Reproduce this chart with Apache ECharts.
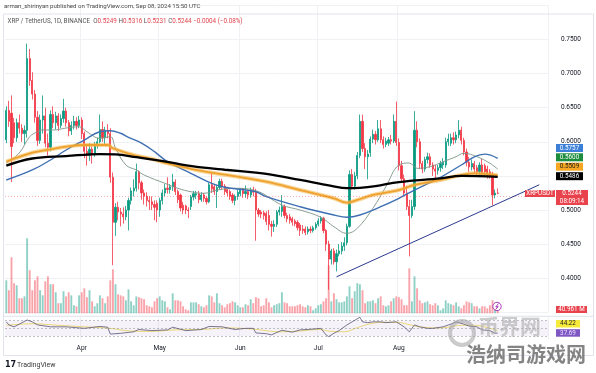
<!DOCTYPE html>
<html><head><meta charset="utf-8">
<script src="https://cdn.jsdelivr.net/npm/echarts/dist/echarts.min.js"></script>
<style>html,body{margin:0;padding:0;background:#fff;}#c{width:596px;height:373px;}</style>
</head><body><div id="c"></div>
<script>
// ---------- DATA ----------
const startDate = [2024, 2, 3];      // 2024-03-03, daily bars
const totalSlots = 209;              // bars + empty right margin
const monthTicks = ['Apr', 'May', 'Jun', 'Jul', 'Aug'];
const priceTicks = [0.40, 0.45, 0.50, 0.55, 0.60, 0.65, 0.70, 0.75];

// [open, close, low, high]
const candlesMar = [
[0.603,0.646,0.598,0.652],[0.646,0.630,0.622,0.660],[0.642,0.593,0.541,0.668],[0.628,0.606,0.598,0.635],
[0.606,0.628,0.600,0.634],[0.628,0.620,0.612,0.640],[0.620,0.612,0.600,0.626],[0.612,0.617,0.596,0.624],
[0.617,0.722,0.606,0.744],[0.722,0.690,0.682,0.736],[0.690,0.670,0.662,0.702],[0.670,0.636,0.628,0.676],
[0.636,0.602,0.594,0.645],[0.602,0.632,0.597,0.640],[0.632,0.638,0.612,0.668],[0.638,0.598,0.592,0.650],
[0.598,0.592,0.580,0.612],[0.592,0.640,0.586,0.646],[0.640,0.628,0.620,0.652],[0.628,0.638,0.618,0.644],
[0.638,0.624,0.616,0.642],[0.624,0.634,0.620,0.640],[0.634,0.645,0.628,0.663],[0.645,0.628,0.622,0.650],
[0.628,0.616,0.608,0.632],[0.616,0.624,0.610,0.630],[0.624,0.630,0.618,0.638],[0.630,0.624,0.618,0.636],
[0.624,0.632,0.620,0.638]
];
const candlesApr = [
[0.632,0.612,0.604,0.636],[0.612,0.586,0.576,0.615],[0.586,0.580,0.565,0.596],[0.580,0.589,0.572,0.598],
[0.589,0.582,0.568,0.593],[0.582,0.594,0.578,0.600],[0.594,0.600,0.590,0.606],[0.600,0.618,0.598,0.640],
[0.618,0.606,0.600,0.630],[0.606,0.617,0.596,0.622],[0.617,0.612,0.605,0.626],[0.612,0.548,0.540,0.620],
[0.548,0.482,0.419,0.555],[0.482,0.504,0.462,0.510],[0.504,0.497,0.485,0.512],[0.497,0.494,0.476,0.503],
[0.494,0.490,0.480,0.504],[0.490,0.500,0.485,0.506],[0.500,0.514,0.470,0.518],[0.514,0.528,0.508,0.533],
[0.528,0.532,0.520,0.545],[0.532,0.556,0.527,0.568],[0.556,0.540,0.530,0.558],[0.540,0.525,0.515,0.543],
[0.525,0.520,0.508,0.530],[0.520,0.514,0.505,0.526],[0.514,0.512,0.500,0.520],[0.512,0.508,0.500,0.520],
[0.508,0.504,0.485,0.514],[0.510,0.500,0.482,0.514]
];
const candlesMay = [
[0.500,0.514,0.490,0.518],[0.514,0.525,0.508,0.530],[0.525,0.532,0.520,0.538],[0.532,0.530,0.524,0.548],
[0.530,0.534,0.524,0.538],[0.534,0.541,0.528,0.553],[0.541,0.527,0.522,0.545],[0.527,0.515,0.510,0.530],
[0.522,0.503,0.498,0.524],[0.507,0.500,0.494,0.512],[0.506,0.500,0.494,0.508],[0.500,0.499,0.488,0.504],
[0.505,0.519,0.500,0.522],[0.519,0.524,0.514,0.528],[0.522,0.524,0.516,0.528],[0.524,0.515,0.510,0.528],
[0.515,0.522,0.512,0.526],[0.522,0.517,0.512,0.525],[0.517,0.512,0.508,0.520],[0.512,0.537,0.510,0.540],
[0.537,0.531,0.525,0.556],[0.534,0.527,0.522,0.538],[0.527,0.533,0.503,0.537],[0.533,0.542,0.530,0.546],
[0.542,0.535,0.530,0.546],[0.535,0.527,0.522,0.538],[0.530,0.525,0.520,0.534],[0.527,0.520,0.515,0.530],
[0.522,0.514,0.510,0.525],[0.514,0.520,0.507,0.523],[0.520,0.526,0.515,0.530]
];
const candlesJun = [
[0.524,0.529,0.520,0.532],[0.529,0.524,0.518,0.532],[0.524,0.527,0.518,0.536],[0.527,0.522,0.516,0.530],
[0.522,0.528,0.518,0.533],[0.528,0.526,0.520,0.534],[0.526,0.500,0.455,0.531],[0.500,0.494,0.490,0.503],
[0.497,0.494,0.488,0.500],[0.496,0.492,0.486,0.499],[0.495,0.483,0.478,0.498],[0.492,0.479,0.470,0.500],
[0.479,0.476,0.461,0.484],[0.476,0.479,0.468,0.485],[0.479,0.497,0.475,0.500],[0.497,0.500,0.492,0.505],
[0.498,0.505,0.490,0.522],[0.505,0.492,0.488,0.508],[0.492,0.487,0.482,0.496],[0.490,0.485,0.480,0.494],
[0.487,0.482,0.477,0.490],[0.484,0.480,0.476,0.487],[0.482,0.474,0.470,0.485],[0.478,0.470,0.462,0.481],
[0.472,0.470,0.465,0.478],[0.472,0.467,0.463,0.476],[0.468,0.472,0.464,0.476],[0.472,0.470,0.466,0.476],
[0.470,0.474,0.467,0.477],[0.474,0.479,0.471,0.482]
];
const candlesJul = [
[0.479,0.484,0.476,0.488],[0.484,0.488,0.480,0.491],[0.488,0.470,0.466,0.490],[0.470,0.450,0.440,0.472],
[0.450,0.428,0.383,0.455],[0.428,0.440,0.420,0.443],[0.440,0.424,0.420,0.444],[0.424,0.436,0.410,0.442],
[0.436,0.440,0.432,0.450],[0.440,0.447,0.435,0.453],[0.447,0.452,0.440,0.460],[0.452,0.476,0.448,0.480],
[0.476,0.552,0.474,0.558],[0.552,0.535,0.530,0.560],[0.535,0.550,0.530,0.556],[0.550,0.580,0.545,0.585],
[0.580,0.630,0.576,0.640],[0.630,0.590,0.585,0.640],[0.590,0.578,0.560,0.598],[0.578,0.582,0.545,0.588],
[0.584,0.604,0.578,0.608],[0.604,0.611,0.598,0.618],[0.611,0.603,0.596,0.616],[0.603,0.619,0.600,0.632],
[0.619,0.603,0.598,0.632],[0.603,0.596,0.590,0.608],[0.596,0.601,0.592,0.606],[0.598,0.603,0.594,0.607],
[0.603,0.601,0.596,0.610],[0.601,0.630,0.598,0.640],[0.630,0.599,0.594,0.659]
];
const candlesAug = [
[0.599,0.565,0.558,0.605],[0.565,0.546,0.540,0.572],[0.546,0.525,0.520,0.552],[0.525,0.505,0.500,0.535],
[0.505,0.492,0.432,0.515],[0.492,0.505,0.488,0.515],[0.505,0.617,0.500,0.645],[0.617,0.600,0.592,0.630],
[0.600,0.568,0.560,0.605],[0.568,0.560,0.554,0.572],[0.560,0.574,0.556,0.578],[0.574,0.578,0.568,0.584],
[0.578,0.566,0.562,0.583],[0.566,0.560,0.550,0.570],[0.560,0.557,0.545,0.566],[0.558,0.562,0.552,0.566],
[0.562,0.568,0.556,0.572],[0.566,0.570,0.560,0.576],[0.566,0.600,0.562,0.606],[0.600,0.604,0.594,0.612],
[0.598,0.606,0.594,0.612],[0.606,0.603,0.596,0.614],[0.603,0.610,0.598,0.615],[0.610,0.617,0.605,0.632],
[0.617,0.602,0.596,0.622],[0.602,0.585,0.580,0.606],[0.585,0.570,0.564,0.590],[0.570,0.563,0.556,0.578],
[0.563,0.568,0.558,0.574],[0.568,0.560,0.554,0.572],[0.562,0.556,0.550,0.566]
];
const candlesSep = [
[0.556,0.566,0.548,0.570],[0.566,0.555,0.550,0.575],[0.565,0.556,0.550,0.568],[0.560,0.554,0.546,0.565],
[0.556,0.550,0.546,0.560],[0.552,0.522,0.507,0.556],[0.522,0.5249,0.517,0.530],[0.5249,0.5244,0.5231,0.5316]
];

// volume, millions
const volMar = [193,135,328,176,164,88,88,99,439,252,135,193,216,135,105,187,216,170,170,123,59,59,129,99,123,105,47,41,105];
const volApr = [123,146,94,135,70,41,59,105,88,59,99,193,257,170,111,105,99,76,140,70,47,99,94,88,82,47,41,35,70,88];
const volMay = [99,76,70,35,23,117,76,76,70,41,23,18,64,64,64,53,41,35,47,105,99,64,117,59,47,35,53,59,70,64,47];
const volJun = [35,35,53,47,82,59,94,88,41,47,88,64,35,47,53,59,123,64,59,41,41,41,47,53,41,35,47,41,18,29];
const volJul = [47,53,70,88,281,70,117,82,64,64,70,99,158,88,129,176,170,135,59,70,70,76,59,88,99,47,41,47,70,88,99];
const volAug = [94,82,47,47,263,70,216,146,76,59,64,70,53,47,59,47,18,29,76,59,53,47,64,41,29,47,70,64,59,41,41];
const volSep = [29,41,41,29,47,76,29,40.961];

// moving averages: [barIndex, value]
const maThin = [[0,0.569],[5,0.5836],[9,0.6075],[12,0.6148],[14,0.6173],[18,0.6173],[23,0.6202],[28,0.6221],[31,0.6148],[36,0.6051],[40,0.6075],[42,0.5909],[46,0.566],[50,0.5587],[53,0.5513],[61,0.5391],[66,0.5318],[71,0.5268],[76,0.5245],[81,0.5293],[88,0.5318],[96,0.5283],[106,0.5073],[113,0.50],[121,0.4893],[126,0.4755],[131,0.4658],[135,0.4732],[141,0.5025],[146,0.5342],[151,0.566],[155,0.5689],[158,0.5611],[163,0.5635],[168,0.5708],[173,0.5782],[176,0.5831],[181,0.5782],[186,0.5685],[189,0.56]];
const maBlue = [[0,0.544],[10,0.5587],[17,0.5733],[23,0.588],[30,0.6026],[36,0.6148],[40,0.6163],[44,0.6125],[47,0.6066],[52,0.598],[57,0.5855],[62,0.5708],[71,0.5538],[79,0.5391],[84,0.5333],[96,0.5268],[100,0.5195],[113,0.5048],[126,0.4927],[131,0.4893],[136,0.4927],[144,0.5048],[151,0.5172],[157,0.5293],[167,0.548],[175,0.566],[180,0.578],[184,0.582],[189,0.5757]];
const maOrange = [[0,0.5708],[10,0.584],[17,0.589],[23,0.5928],[30,0.5953],[39,0.5953],[41,0.5905],[49,0.5806],[55,0.5758],[62,0.5685],[74,0.558],[87,0.5499],[100,0.5415],[113,0.5293],[126,0.5172],[131,0.5107],[135,0.5147],[141,0.522],[151,0.5293],[157,0.5367],[167,0.544],[175,0.5513],[180,0.5538],[189,0.5509]];
const maBlack = [[0,0.565],[10,0.5755],[23,0.579],[36,0.582],[42,0.5815],[50,0.5775],[59,0.5725],[67,0.567],[75,0.5625],[84,0.559],[96,0.5548],[100,0.553],[113,0.544],[125,0.5355],[131,0.532],[136,0.5325],[142,0.535],[151,0.541],[167,0.5465],[175,0.55],[189,0.5486]];
const trendLine = [[127,0.402],[205,0.537]];
const lastPrice = 0.5244;

// RSI: [barIndex, value]
const rsi = [[0,67],[1,59],[3,54],[5,61],[8,72],[10,67],[12,59],[17,54],[23,54],[30,50],[36,55],[39,53],[40,35],[44,37],[49,41],[51,47],[56,44],[62,46],[64,53],[69,44],[75,47],[78,55],[83,54],[88,47],[92,50],[95,50],[96,38],[100,36],[102,33],[106,45],[110,40],[113,46],[117,47.5],[121,50],[123,32.6],[124,28.3],[126,37],[128,44],[131,59],[133,67],[136,79],[137,67],[139,65],[141,67],[144,67],[146,65],[150,67],[153,54],[155,41],[157,59],[159,54],[162,50],[164,50],[168,54],[171,61],[173,67],[176,61],[178,56],[181,54],[183,46],[186,44],[188,37],[189,37.69]];
const rsiMa = [[0,58],[10,62],[20,58],[30,54],[40,50],[46,44],[55,42],[65,46],[75,47],[85,51],[95,48],[105,41],[113,43],[120,47],[125,42],[130,41],[135,52],[140,62],[145,66],[150,66],[156,58],[160,53],[165,51],[170,53],[175,58],[180,58],[185,52],[189,44.22]];

// ---------- BUILD ----------
const candles = [].concat(candlesMar, candlesApr, candlesMay, candlesJun, candlesJul, candlesAug, candlesSep);
const volumes = [].concat(volMar, volApr, volMay, volJun, volJul, volAug, volSep);
const dates = [];
for (let i = 0; i < totalSlots; i++) {
  const d = new Date(Date.UTC(startDate[0], startDate[1], startDate[2] + i));
  dates.push(d.toISOString().slice(0, 10));
}
const MON = ['Jan','Feb','Mar','Apr','May','Jun','Jul','Aug','Sep','Oct','Nov','Dec'];
const isMonthTick = (idx, val) => {
  const v = dates[idx];
  if (!v || v.slice(8) !== '01') return false;
  return monthTicks.indexOf(MON[+v.slice(5, 7) - 1]) >= 0;
};
const UP = '#089981', DOWN = '#F23645';
const volData = volumes.map((v, i) => ({
  value: v,
  itemStyle: { color: candles[i][1] >= candles[i][0] ? 'rgba(8,153,129,0.45)' : 'rgba(242,54,69,0.45)' }
}));

const FONT = 'Roboto, "Liberation Sans", sans-serif';
const GL = 5, GW = 543.4;
const chart = echarts.init(document.getElementById('c'), null, { renderer: 'canvas' });

const tag = (x, y, w, h, bg, txt, fg) => ([
  { type: 'rect', shape: { x: x, y: y, width: w, height: h }, style: { fill: bg }, z: 100 },
  { type: 'text', x: x + w / 2, y: y + h / 2, style: { text: txt, fill: fg, font: '6.3px ' + FONT, align: 'center', verticalAlign: 'middle' }, z: 101 }
]);

const option = {
  animation: false,
  backgroundColor: '#fff',
  grid: [
    { left: GL, width: GW, top: 5.4, height: 306.9 },
    { left: GL, width: GW, top: 227.8, height: 85.5 },
    { left: GL, width: GW, top: 316.9, height: 22.9 }
  ],
  xAxis: [0, 1, 2].map(g => ({
    type: 'category', gridIndex: g, data: dates, boundaryGap: true,
    axisLine: { show: false }, axisTick: { show: false },
    axisLabel: g === 2 ? {
      show: true, interval: isMonthTick, margin: 5, fontSize: 6.6, color: '#131722', fontFamily: FONT,
      formatter: v => MON[+v.slice(5, 7) - 1]
    } : { show: false },
    splitLine: { show: g !== 1, interval: isMonthTick, lineStyle: { color: '#f0f1f4', width: 1 } }
  })),
  yAxis: [
    {
      gridIndex: 0, type: 'value', position: 'right', min: 0.35, max: 0.80, interval: 0.05,
      axisLine: { show: false }, axisTick: { show: false },
      axisLabel: {
        margin: 12.5, fontSize: 6.5, color: '#131722', fontFamily: FONT,
        formatter: v => priceTicks.some(t => Math.abs(t - v) < 1e-6) ? v.toFixed(4) : ''
      },
      splitLine: { lineStyle: { color: '#f0f1f4', width: 1 } }
    },
    { gridIndex: 1, type: 'value', min: 0, max: 500, show: false },
    { gridIndex: 2, type: 'value', min: 20, max: 80, show: false }
  ],
  series: [
    {
      type: 'bar', name: 'vol', xAxisIndex: 1, yAxisIndex: 1, data: volData,
      barWidth: 1.9, z: 1, silent: true
    },
    {
      type: 'candlestick', name: 'XRPUSDT', xAxisIndex: 0, yAxisIndex: 0, data: candles,
      barWidth: 1.8, z: 3,
      itemStyle: { color: UP, color0: DOWN, borderColor: UP, borderColor0: DOWN, borderWidth: 0.8 },
      markLine: {
        silent: true, symbol: 'none', label: { show: false },
        lineStyle: { color: 'rgba(242,54,69,0.55)', type: [1, 2], width: 0.7 },
        data: [{ yAxis: lastPrice }]
      }
    },
    { type: 'line', name: 'thin', data: maThin, smooth: 0.4, showSymbol: false, z: 4,
      lineStyle: { color: '#7d9486', width: 0.9 } },
    { type: 'line', name: 'blue', data: maBlue, smooth: 0.4, showSymbol: false, z: 4,
      lineStyle: { color: '#3e6fb3', width: 1.4 } },
    { type: 'line', name: 'orangeHalo', data: maOrange, smooth: 0.4, showSymbol: false, z: 4,
      lineStyle: { color: 'rgba(245,180,70,0.55)', width: 4 } },
    { type: 'line', name: 'orange', data: maOrange, smooth: 0.4, showSymbol: false, z: 4,
      lineStyle: { color: '#eea12c', width: 1.8 } },
    { type: 'line', name: 'black', data: maBlack, smooth: 0.4, showSymbol: false, z: 5,
      lineStyle: { color: '#000', width: 2.3 } },
    { type: 'line', name: 'trend', data: trendLine, showSymbol: false, z: 6,
      lineStyle: { color: '#2b3a8f', width: 1 } },
    {
      type: 'line', name: 'RSI', xAxisIndex: 2, yAxisIndex: 2, data: rsi, showSymbol: false, z: 5,
      lineStyle: { color: '#5b5675', width: 0.8 },
      markArea: { silent: true, itemStyle: { color: 'rgba(126,87,194,0.08)' }, data: [[{ yAxis: 70 }, { yAxis: 30 }]] },
      markLine: {
        silent: true, symbol: 'none', label: { show: false },
        lineStyle: { color: '#9598a1', type: [2, 2], width: 0.6 },
        data: [{ yAxis: 70 }, { yAxis: 50 }, { yAxis: 30 }]
      }
    },
    { type: 'line', name: 'RSI MA', xAxisIndex: 2, yAxisIndex: 2, data: rsiMa, smooth: 0.4, showSymbol: false, z: 4,
      lineStyle: { color: '#e9cf55', width: 0.8 } }
  ],
  graphic: [].concat(
    [
      { type: 'rect', shape: { x: 3.5, y: 14, width: 590, height: 341.5 }, style: { fill: 'none', stroke: '#e0e3eb', lineWidth: 1 }, z: 90 },
      { type: 'line', shape: { x1: 3.5, y1: 316.3, x2: 593.5, y2: 316.3 }, style: { stroke: '#e0e3eb', lineWidth: 1 }, z: 90 },
      { type: 'text', x: 4, y: 6, style: { text: 'arman_shirinyan published on TradingView.com, Sep 08, 2024 15:50 UTC', fill: '#4a4a4a', font: '6.1px ' + FONT, verticalAlign: 'middle' }, z: 100 },
      { type: 'text', x: 7.5, y: 21.5, z: 100, style: {
        text: '{a|XRP / TetherUS, 1D, BINANCE}  {l|O}{v|0.5249} {l|H}{v|0.5316} {l|L}{v|0.5231} {l|C}{v|0.5244} {v|\u22120.0004 (\u22120.08%)}',
        verticalAlign: 'middle', font: '6.3px ' + FONT,
        rich: { a: { fill: '#555', font: '6.3px ' + FONT }, l: { fill: '#555', font: '6.3px ' + FONT }, v: { fill: '#e0434c', font: '6.3px ' + FONT } }
      } },
      { type: 'text', x: 5, y: 365, style: { text: '17', fill: '#131722', font: 'bold 8px "DejaVu Sans", sans-serif', verticalAlign: 'middle' }, z: 100 },
      { type: 'text', x: 17, y: 365, style: { text: 'TradingView', fill: '#3a3a3a', font: '7px ' + FONT, verticalAlign: 'middle' }, z: 100 },
      // event icon
      { type: 'circle', shape: { cx: 497, cy: 306.5, r: 4.2 }, style: { fill: '#fff', stroke: '#9c27b0', lineWidth: 0.9 }, z: 100 },
      { type: 'polyline', shape: { points: [[498.5, 303.5], [495.8, 307], [498.2, 306.5], [495.5, 309.6]] }, style: { stroke: '#9c27b0', lineWidth: 0.9, fill: 'none' }, z: 101 },
      // watermark
      { type: 'circle', shape: { cx: 462, cy: 333, r: 12 }, style: { fill: 'none', stroke: 'rgba(160,160,160,0.55)', lineWidth: 4 }, z: 110 },
      { type: 'text', x: 478, y: 326, style: { text: '币界网', fill: 'rgba(170,170,170,0.6)', font: 'bold 21px "Noto Sans CJK SC", sans-serif', verticalAlign: 'middle' }, z: 110 },
      { type: 'text', x: 466, y: 354, style: { text: '浩纳司游戏网', fill: 'rgba(110,110,110,0.85)', font: 'bold 20px "Noto Sans CJK SC", sans-serif', verticalAlign: 'middle' }, z: 111 }
    ],
    tag(556, 144, 27, 8, '#3b7fd8', '0.5757', '#fff'),
    tag(556, 153.3, 27, 8, '#1c8c3d', '0.5600', '#fff'),
    tag(556, 162.7, 27, 8, '#f5a623', '0.5509', '#1a1a1a'),
    tag(556, 172.2, 27, 8, '#000', '0.5486', '#fff'),
    tag(525, 190, 30, 7, '#e8434d', 'XRPUSDT', '#fff'),
    [
      { type: 'rect', shape: { x: 556, y: 190, width: 32, height: 15 }, style: { fill: '#e8434d' }, z: 100 },
      { type: 'text', x: 572, y: 193.7, style: { text: '0.5244', fill: '#fff', font: '6.3px ' + FONT, align: 'center', verticalAlign: 'middle' }, z: 101 },
      { type: 'text', x: 572, y: 201, style: { text: '08:09:14', fill: '#fff', font: '6.3px ' + FONT, align: 'center', verticalAlign: 'middle' }, z: 101 }
    ],
    tag(556, 306, 31, 7, '#e8434d', '40.961 M', '#fff'),
    tag(556, 320, 24, 7.5, '#f6eb3b', '44.22', '#222'),
    tag(556, 329.2, 24, 7.5, '#7e57c2', '37.69', '#e6dcff')
  )
};
chart.setOption(option);
</script></body></html>
